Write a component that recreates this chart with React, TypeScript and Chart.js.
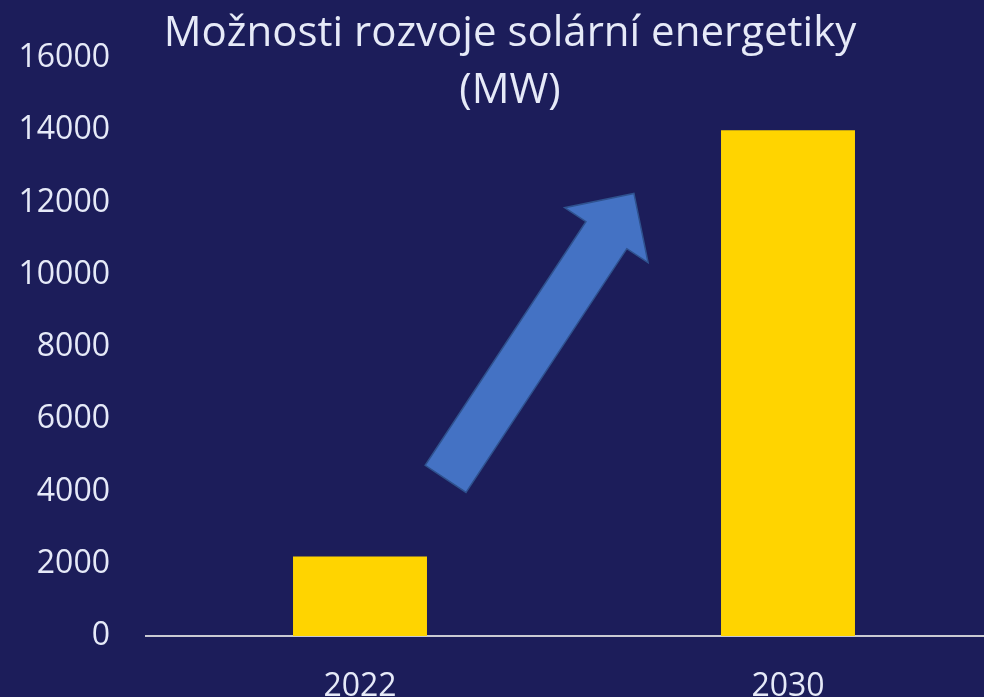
import React, { useEffect, useRef } from "react";
import { Chart, registerables } from "chart.js";

Chart.register(...registerables);

const categories: string[] = ["2022", "2030"];
const capacityMW: number[] = [2200, 14000];
const yTicks: number[] = [0, 2000, 4000, 6000, 8000, 10000, 12000, 14000, 16000];
const titleLines: string[] = ["Možnosti rozvoje solární energetiky", "(MW)"];
// arrow decoration in data space: [category index, value]
const arrowTail: [number, number] = [0.2, 4350];
const arrowTip: [number, number] = [0.64, 12250];

const BG = "#1c1d5a";
const TEXT = "#e6eaf8";
const FONT = "'Open Sans', sans-serif";

const decoPlugin = {
  id: "deco",
  beforeDraw(chart: any) {
    const { ctx, width, height } = chart;
    ctx.save();
    ctx.fillStyle = BG;
    ctx.fillRect(0, 0, width, height);
    ctx.restore();
  },
  afterDraw(chart: any) {
    const { ctx } = chart;
    const xs = chart.scales.x;
    const ys = chart.scales.y;
    // arrow
    const tx = xs.getPixelForValue(arrowTail[0]);
    const ty = ys.getPixelForValue(arrowTail[1]);
    const px = xs.getPixelForValue(arrowTip[0]);
    const py = ys.getPixelForValue(arrowTip[1]);
    const dx = px - tx;
    const dy = py - ty;
    const len = Math.hypot(dx, dy);
    const ux = dx / len;
    const uy = dy / len;
    const nx = -uy;
    const ny = ux;
    const shaftW = 49;
    const headW = 100;
    const headL = 50;
    const bx = px - ux * headL;
    const by = py - uy * headL;
    ctx.save();
    ctx.beginPath();
    ctx.moveTo(tx + nx * shaftW / 2, ty + ny * shaftW / 2);
    ctx.lineTo(bx + nx * shaftW / 2, by + ny * shaftW / 2);
    ctx.lineTo(bx + nx * headW / 2, by + ny * headW / 2);
    ctx.lineTo(px, py);
    ctx.lineTo(bx - nx * headW / 2, by - ny * headW / 2);
    ctx.lineTo(bx - nx * shaftW / 2, by - ny * shaftW / 2);
    ctx.lineTo(tx - nx * shaftW / 2, ty - ny * shaftW / 2);
    ctx.closePath();
    ctx.fillStyle = "#4472c4";
    ctx.fill();
    ctx.lineWidth = 1.5;
    ctx.strokeStyle = "#2f528f";
    ctx.stroke();
    ctx.restore();
    // title
    ctx.save();
    ctx.fillStyle = TEXT;
    ctx.font = `42px ${FONT}`;
    ctx.textAlign = "center";
    ctx.textBaseline = "middle";
    ctx.fillText(titleLines[0], 510, 34);
    ctx.fillText(titleLines[1], 510, 91);
    ctx.restore();
  },
};

export default function App() {
  const ref = useRef<HTMLCanvasElement | null>(null);
  useEffect(() => {
    document.body.style.margin = "0";
    document.body.style.overflow = "hidden";
    document.body.style.background = BG;
    const canvas = ref.current;
    if (!canvas) return;
    const chart = new Chart(canvas, {
      type: "bar",
      data: {
        labels: categories,
        datasets: [
          {
            data: capacityMW,
            backgroundColor: "#ffd400",
            borderWidth: 0,
            barPercentage: 0.626,
            categoryPercentage: 0.5,
          },
        ],
      },
      options: {
        animation: false,
        responsive: false,
        maintainAspectRatio: false,
        layout: { padding: { top: 58, left: 0, right: 0, bottom: 0 } },
        plugins: {
          legend: { display: false },
          title: { display: false },
          tooltip: { enabled: false },
        },
        scales: {
          x: {
            grid: { display: false, drawTicks: false },
            border: { display: true, color: "#c9c9d2", width: 2 },
            ticks: {
              color: TEXT,
              font: { family: FONT, size: 32 },
              padding: 32,
              maxRotation: 0,
            },
            afterFit(scale: any) {
              scale.height = 61;
            },
          },
          y: {
            min: 0,
            max: 16000,
            grid: { display: false, drawTicks: false },
            border: { display: false },
            afterBuildTicks(scale: any) {
              scale.ticks = yTicks.map((v) => ({ value: v }));
            },
            ticks: {
              color: TEXT,
              font: { family: FONT, size: 32 },
              padding: 36,
              callback: (v: any) => String(v),
            },
            afterFit(scale: any) {
              scale.width = 146;
            },
          },
        },
      },
      plugins: [decoPlugin],
    });
    return () => chart.destroy();
  }, []);
  return (
    <div style={{ width: 984, height: 697, overflow: "hidden", background: BG }}>
      <canvas ref={ref} width={1002} height={697} style={{ display: "block" }} />
    </div>
  );
}
